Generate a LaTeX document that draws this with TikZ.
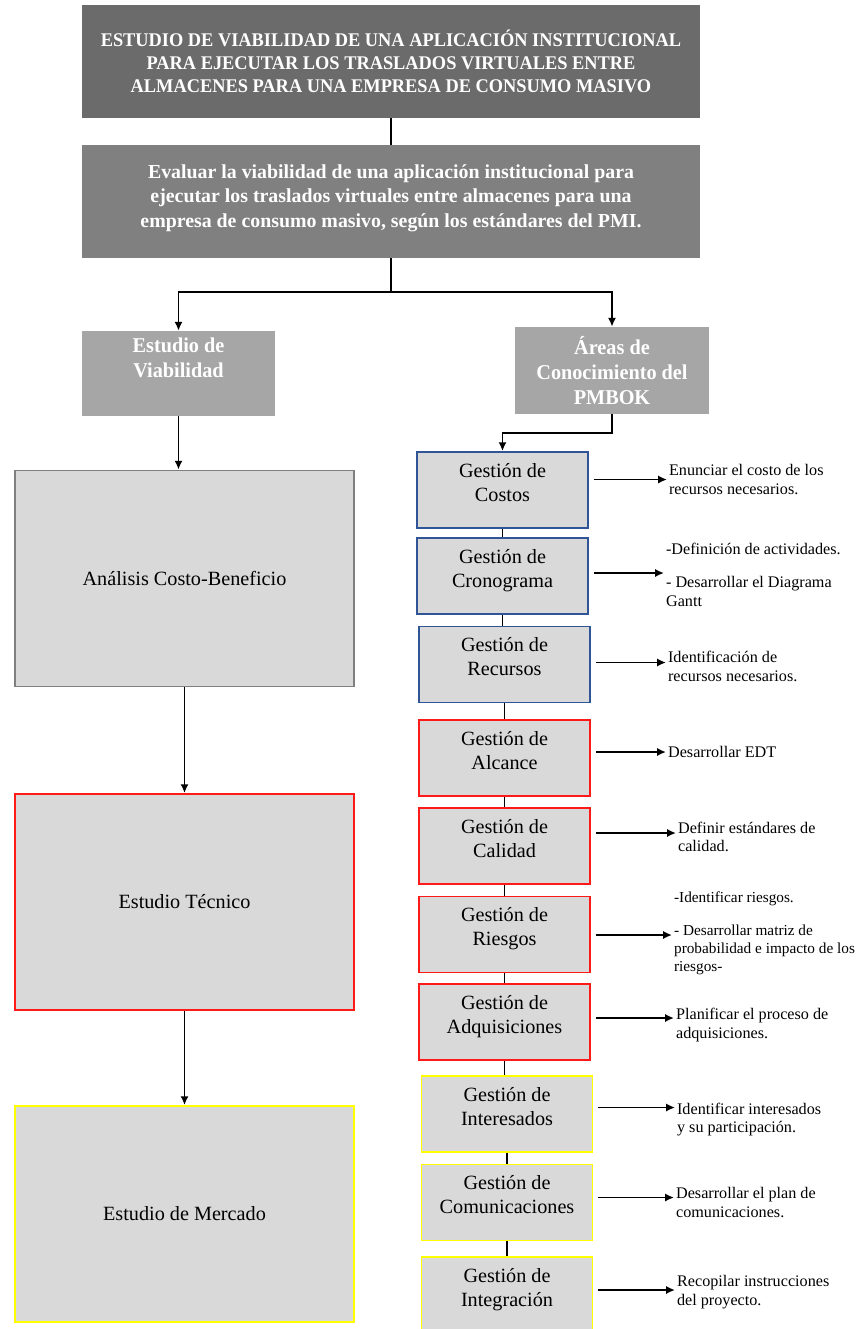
\documentclass[tikz,border=0pt]{standalone}
\usepackage{fontspec}
\setmainfont{Liberation Serif}
\newfontfamily\titlefont[FakeStretch=0.95]{Liberation Serif}
\newfontfamily\areafont[FakeStretch=0.96]{Liberation Serif}
\usetikzlibrary{arrows.meta}
\definecolor{titlegray}{HTML}{6B6B6B}
\definecolor{goalgray}{HTML}{808080}
\definecolor{areagray}{HTML}{A6A6A6}
\definecolor{boxgray}{HTML}{D9D9D9}
\definecolor{edgegray}{HTML}{7F7F7F}
\definecolor{edgeblue}{HTML}{2F5597}
\definecolor{edgered}{HTML}{FF1A1A}
\definecolor{edgeyellow}{HTML}{FFFF00}
\tikzset{
  headbox/.style={fill=#1, text=white, align=center, inner sep=0pt},
  bigbox/.style={draw=#1, fill=boxgray, line width=1.1pt, minimum width=6.78cm, minimum height=4.32cm, font=\fontsize{11.5}{13.6}\selectfont},
  gbox/.style={draw=#1, fill=boxgray, line width=1.1pt, minimum width=3.42cm, minimum height=1.52cm, text depth=0.31cm, align=center, font=\fontsize{11.5}{13.6}\selectfont},
  note/.style={anchor=west, align=left, inner sep=1pt, font=\fontsize{9.2}{10.6}\selectfont},
  link/.style={line width=1pt}
}

\begin{document}
\begin{tikzpicture}[x=0.02cm, y=-0.02cm, >={Latex[length=5pt,width=4.6pt]}]
  \clip (0,0) rectangle (856,1329);
  \node[headbox=titlegray, minimum width=12.36cm, minimum height=2.26cm, font=\titlefont\bfseries\fontsize{11}{13}\selectfont] (titulo) at (391,61.5)
    {ESTUDIO DE VIABILIDAD DE UNA APLICACIÓN INSTITUCIONAL\\PARA EJECUTAR LOS TRASLADOS VIRTUALES ENTRE\\ALMACENES PARA UNA EMPRESA DE CONSUMO MASIVO};
  \node[headbox=goalgray, minimum width=12.36cm, minimum height=2.26cm, text depth=0.22cm, font=\bfseries\fontsize{11.3}{14}\selectfont] (objetivo) at (391,201.5)
    {Evaluar la viabilidad de una aplicación institucional para\\ejecutar los traslados virtuales entre almacenes para una\\empresa de consumo masivo, según los estándares del PMI.};
  \node[headbox=areagray, minimum width=3.86cm, minimum height=1.70cm, font=\areafont\bfseries\fontsize{12}{14.2}\selectfont] (viabilidad) at (178.5,373.5)
    {Estudio de\\Viabilidad\\\strut};
  \node[headbox=areagray, minimum width=3.88cm, minimum height=1.74cm, font=\areafont\bfseries\fontsize{12}{14.2}\selectfont] (areas) at (612,370.5)
    {Áreas de\\Conocimiento del\\PMBOK};

  \node[bigbox=edgegray] (costobeneficio) at (184.5,578.5) {Análisis Costo-Beneficio};
  \node[bigbox=edgered] (tecnico) at (184.5,902) {Estudio Técnico};
  \node[bigbox=edgeyellow] (mercado) at (184.5,1214) {Estudio de Mercado};

  \node[gbox=edgeblue] (costos) at (502.5,490) {Gestión de\\Costos};
  \node[gbox=edgeblue] (cronograma) at (502.5,576) {Gestión de\\Cronograma};
  \node[gbox=edgeblue] (recursos) at (504.5,664.5) {Gestión de\\Recursos};
  \node[gbox=edgered] (alcance) at (504.5,758) {Gestión de\\Alcance};
  \node[gbox=edgered] (calidad) at (504.5,846) {Gestión de\\Calidad};
  \node[gbox=edgered] (riesgos) at (504.5,934.5) {Gestión de\\Riesgos};
  \node[gbox=edgered] (adquisiciones) at (504.5,1022) {Gestión de\\Adquisiciones};
  \node[gbox=edgeyellow] (interesados) at (507,1114) {Gestión de\\Interesados};
  \node[gbox=edgeyellow] (comunicaciones) at (507,1202.5) {Gestión de\\Comunicaciones};
  \node[gbox=edgeyellow] (integracion) at (507,1295) {Gestión de\\Integración};

  \node[note] (ncostos) at (667,479.5) {Enunciar el costo de los\\recursos necesarios.};
  \node[note] (ncronograma) at (664,575) {-Definición de actividades.\\[8pt]- Desarrollar el Diagrama\\Gantt};
  \node[note] (nrecursos) at (666,666.5) {Identificación de\\recursos necesarios.};
  \node[note] (nalcance) at (666,752) {Desarrollar EDT};
  \node[note] (ncalidad) at (676,837) {Definir estándares de\\calidad.};
  \node[note, font=\fontsize{8.7}{10.4}\selectfont] (nriesgos) at (672,933.5) {-Identificar riesgos.\\[8pt]- Desarrollar matriz de\\probabilidad e impacto de los\\riesgos-};
  \node[note] (nadquisiciones) at (674,1025) {Planificar el proceso de\\adquisiciones.};
  \node[note] (ninteresados) at (675,1119.5) {Identificar interesados\\y su participación.};
  \node[note] (ncomunicaciones) at (674,1202.5) {Desarrollar el plan de\\comunicaciones.};
  \node[note] (nintegracion) at (675,1292) {Recopilar instrucciones\\del proyecto.};

  \coordinate (rama) at (391,292);
  \draw[link] (titulo) -- (objetivo);
  \draw[link] (objetivo) -- (rama);
  \draw[link,->] (rama) -| (viabilidad);
  \draw[link,->] (rama) -| (areas);
  \draw[link,->] (viabilidad) -- (viabilidad |- costobeneficio.north);
  \draw[link,->] (costobeneficio) -- (tecnico);
  \draw[link,->] (tecnico) -- (mercado);
  \draw[link,->] (areas.south) -- ++(0,19) -| (costos);
  \foreach \a/\b in {costos/cronograma, cronograma/recursos, recursos/alcance, alcance/calidad, calidad/riesgos, riesgos/adquisiciones, adquisiciones/interesados, interesados/comunicaciones, comunicaciones/integracion}
    \draw[link] (\a.south) -- (\a.south |- \b.north);
  \foreach \a/\s in {costos/0, cronograma/2, recursos/4, alcance/0, calidad/4, riesgos/-1.5, adquisiciones/7, interesados/12, comunicaciones/5, integracion/2}
    \draw[link,->] ([xshift=0.1cm, yshift=\s*0.02cm]\a.east |- n\a.west) -- ([yshift=\s*0.02cm]n\a.west);
\end{tikzpicture}
\end{document}
